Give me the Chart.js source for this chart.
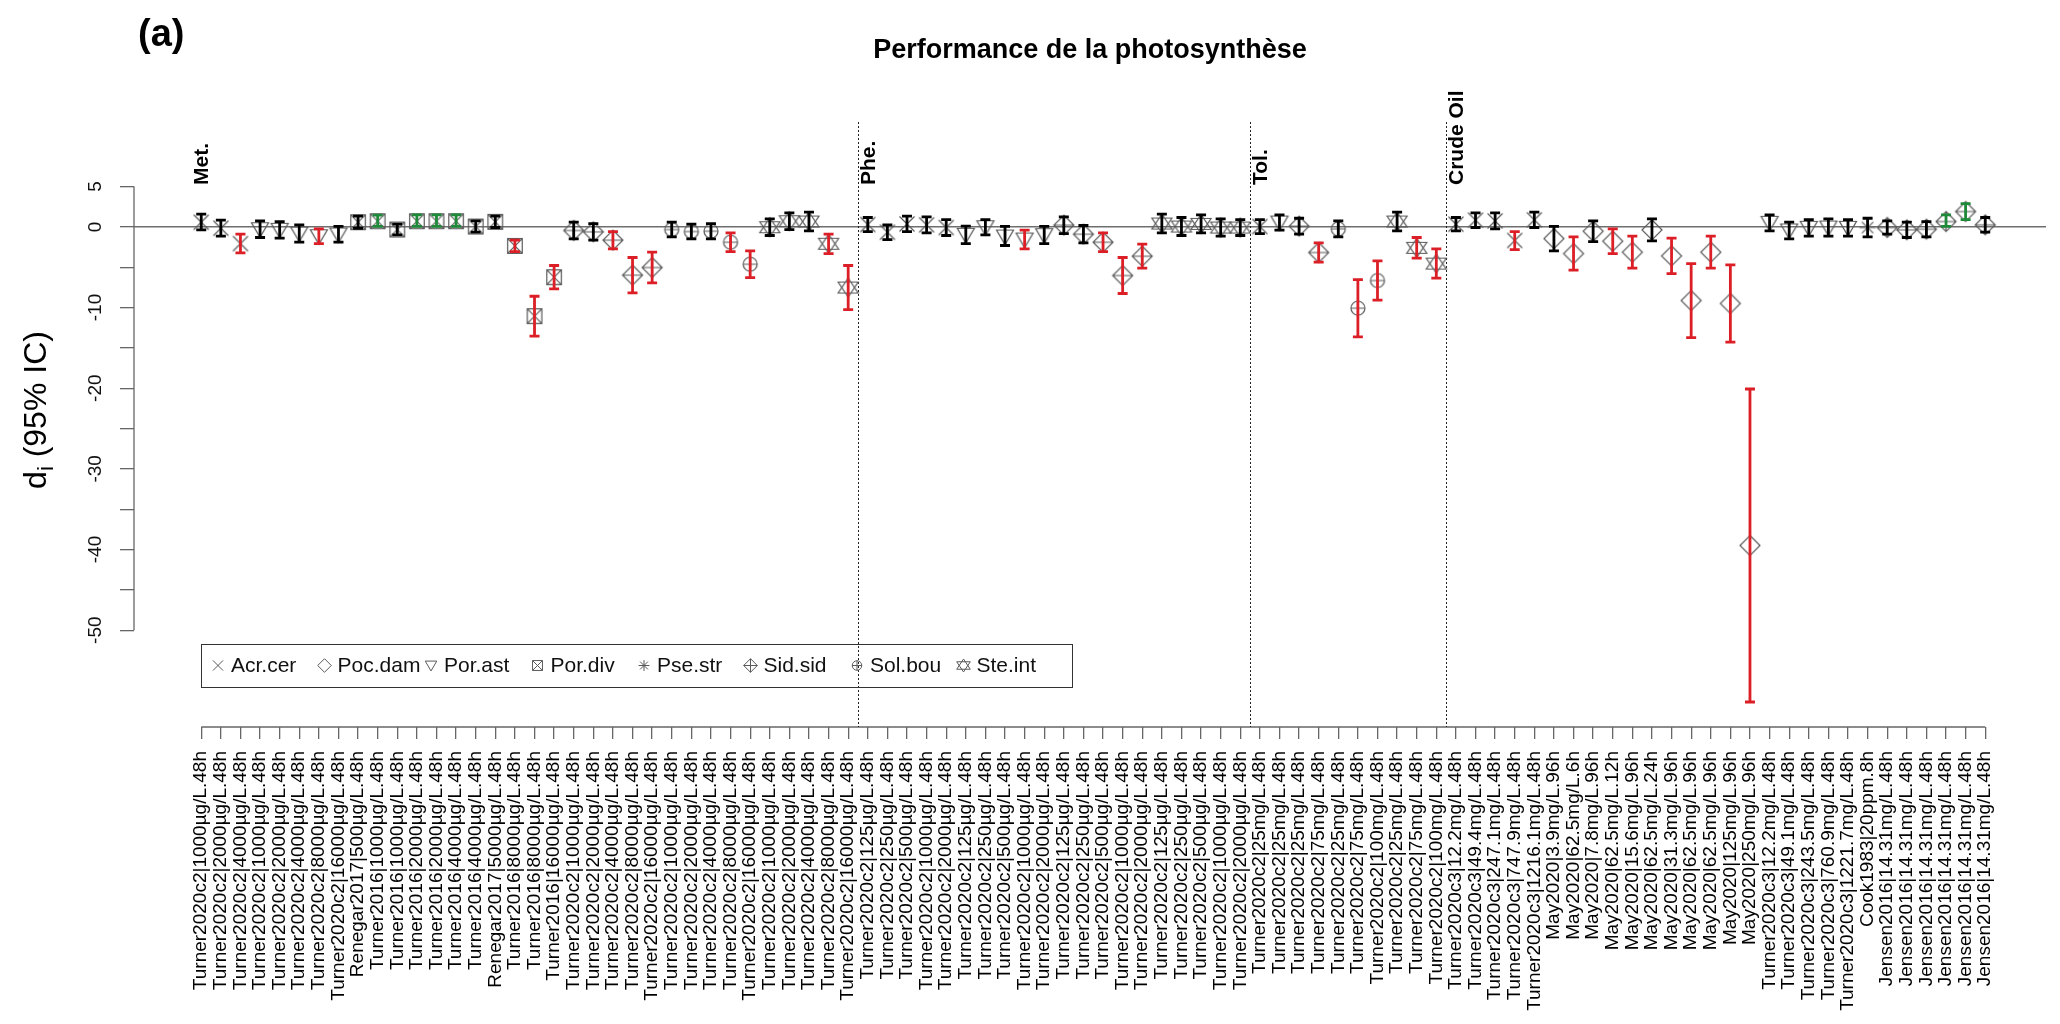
<!DOCTYPE html>
<html><head><meta charset="utf-8">
<script src="https://cdn.jsdelivr.net/npm/chart.js@4.4.1/dist/chart.umd.min.js"></script>
<style>html,body{margin:0;padding:0;background:#fff;}#wrap{width:2060px;height:1024px;position:relative;}</style>
</head><body><div id="wrap"><canvas id="c" width="2060" height="1024"></canvas></div>
<script>
const categories = [
"Turner2020c2|1000µg/L.48h","Turner2020c2|2000µg/L.48h","Turner2020c2|4000µg/L.48h",
"Turner2020c2|1000µg/L.48h","Turner2020c2|2000µg/L.48h","Turner2020c2|4000µg/L.48h","Turner2020c2|8000µg/L.48h","Turner2020c2|16000µg/L.48h",
"Renegar2017|500µg/L.48h","Turner2016|1000µg/L.48h","Turner2016|1000µg/L.48h","Turner2016|2000µg/L.48h","Turner2016|2000µg/L.48h","Turner2016|4000µg/L.48h","Turner2016|4000µg/L.48h","Renegar2017|5000µg/L.48h","Turner2016|8000µg/L.48h","Turner2016|8000µg/L.48h","Turner2016|16000µg/L.48h",
"Turner2020c2|1000µg/L.48h","Turner2020c2|2000µg/L.48h","Turner2020c2|4000µg/L.48h","Turner2020c2|8000µg/L.48h","Turner2020c2|16000µg/L.48h",
"Turner2020c2|1000µg/L.48h","Turner2020c2|2000µg/L.48h","Turner2020c2|4000µg/L.48h","Turner2020c2|8000µg/L.48h","Turner2020c2|16000µg/L.48h",
"Turner2020c2|1000µg/L.48h","Turner2020c2|2000µg/L.48h","Turner2020c2|4000µg/L.48h","Turner2020c2|8000µg/L.48h","Turner2020c2|16000µg/L.48h",
"Turner2020c2|125µg/L.48h","Turner2020c2|250µg/L.48h","Turner2020c2|500µg/L.48h","Turner2020c2|1000µg/L.48h","Turner2020c2|2000µg/L.48h",
"Turner2020c2|125µg/L.48h","Turner2020c2|250µg/L.48h","Turner2020c2|500µg/L.48h","Turner2020c2|1000µg/L.48h","Turner2020c2|2000µg/L.48h",
"Turner2020c2|125µg/L.48h","Turner2020c2|250µg/L.48h","Turner2020c2|500µg/L.48h","Turner2020c2|1000µg/L.48h","Turner2020c2|2000µg/L.48h",
"Turner2020c2|125µg/L.48h","Turner2020c2|250µg/L.48h","Turner2020c2|500µg/L.48h","Turner2020c2|1000µg/L.48h","Turner2020c2|2000µg/L.48h",
"Turner2020c2|25mg/L.48h","Turner2020c2|25mg/L.48h","Turner2020c2|25mg/L.48h","Turner2020c2|75mg/L.48h","Turner2020c2|25mg/L.48h","Turner2020c2|75mg/L.48h","Turner2020c2|100mg/L.48h","Turner2020c2|25mg/L.48h","Turner2020c2|75mg/L.48h","Turner2020c2|100mg/L.48h",
"Turner2020c3|12.2mg/L.48h","Turner2020c3|49.4mg/L.48h","Turner2020c3|247.1mg/L.48h","Turner2020c3|747.9mg/L.48h","Turner2020c3|1216.1mg/L.48h",
"May2020|3.9mg/L.96h","May2020|62.5mg/L.6h","May2020|7.8mg/L.96h","May2020|62.5mg/L.12h","May2020|15.6mg/L.96h","May2020|62.5mg/L.24h","May2020|31.3mg/L.96h","May2020|62.5mg/L.96h","May2020|62.5mg/L.96h","May2020|125mg/L.96h","May2020|250mg/L.96h",
"Turner2020c3|12.2mg/L.48h","Turner2020c3|49.1mg/L.48h","Turner2020c3|243.5mg/L.48h","Turner2020c3|760.9mg/L.48h","Turner2020c3|1221.7mg/L.48h",
"Cook1983|20ppm.8h",
"Jensen2016|14.31mg/L.48h","Jensen2016|14.31mg/L.48h","Jensen2016|14.31mg/L.48h","Jensen2016|14.31mg/L.48h","Jensen2016|14.31mg/L.48h","Jensen2016|14.31mg/L.48h"
];
const speciesOf = [
"Acr.cer","Acr.cer","Acr.cer","Por.ast","Por.ast","Por.ast","Por.ast","Por.ast",
"Por.div","Por.div","Por.div","Por.div","Por.div","Por.div","Por.div","Por.div","Por.div","Por.div","Por.div",
"Sid.sid","Sid.sid","Sid.sid","Sid.sid","Sid.sid","Sol.bou","Sol.bou","Sol.bou","Sol.bou","Sol.bou",
"Ste.int","Ste.int","Ste.int","Ste.int","Ste.int",
"Acr.cer","Acr.cer","Acr.cer","Acr.cer","Acr.cer","Por.ast","Por.ast","Por.ast","Por.ast","Por.ast",
"Sid.sid","Sid.sid","Sid.sid","Sid.sid","Sid.sid","Ste.int","Ste.int","Ste.int","Ste.int","Ste.int",
"Acr.cer","Por.ast","Sid.sid","Sid.sid","Sol.bou","Sol.bou","Sol.bou","Ste.int","Ste.int","Ste.int",
"Acr.cer","Acr.cer","Acr.cer","Acr.cer","Acr.cer",
"Poc.dam","Poc.dam","Poc.dam","Poc.dam","Poc.dam","Poc.dam","Poc.dam","Poc.dam","Poc.dam","Poc.dam","Poc.dam",
"Por.ast","Por.ast","Por.ast","Por.ast","Por.ast","Pse.str",
"Sid.sid","Sid.sid","Sid.sid","Sid.sid","Sid.sid","Sid.sid"
];
const di = [
0.58,-0.17,-2.07,-0.29,-0.37,-0.83,-1.16,-0.95,0.58,0.70,
-0.33,0.70,0.70,0.70,0.04,0.62,-2.36,-11.07,-6.24,-0.45,
-0.62,-1.65,-5.99,-5.04,-0.33,-0.58,-0.54,-1.90,-4.63,-0.04,
0.70,0.66,-2.10,-7.52,0.29,-0.66,0.37,0.25,-0.08,-0.99,
-0.04,-1.20,-1.57,-1.03,0.21,-0.91,-1.90,-6.03,-3.64,0.41,
0.04,0.37,-0.08,-0.08,0.04,0.54,0.08,-3.18,-0.25,-10.08,
-6.65,0.66,-2.60,-4.55,0.33,0.83,0.74,-1.69,0.87,-1.45,
-3.31,-0.54,-1.78,-3.14,-0.37,-3.60,-9.13,-3.14,-9.50,-39.5,
0.50,-0.45,-0.12,-0.08,-0.12,-0.08,-0.08,-0.37,-0.29,0.66,
1.90,0.25];
const ciLow = [
-0.37,-1.16,-3.22,-1.32,-1.40,-1.90,-2.07,-1.90,-0.17,0.05,
-0.99,0.05,0.05,0.05,-0.66,-0.08,-3.06,-13.55,-7.69,-1.49,
-1.65,-2.73,-8.18,-6.94,-1.24,-1.49,-1.49,-3.06,-6.28,-1.07,
-0.33,-0.50,-3.31,-10.25,-0.58,-1.57,-0.58,-0.74,-1.07,-2.07,
-0.99,-2.31,-2.73,-2.07,-0.83,-1.98,-3.06,-8.26,-5.12,-0.74,
-1.07,-0.74,-1.16,-1.07,-0.83,-0.41,-0.91,-4.38,-1.24,-13.64,
-9.09,-0.50,-3.88,-6.36,-0.50,-0.08,-0.25,-2.81,-0.08,-2.98,
-5.37,-1.82,-3.31,-5.12,-1.74,-5.79,-13.72,-5.12,-14.30,-58.9,
-0.50,-1.49,-1.16,-1.16,-1.16,-1.24,-0.91,-1.32,-1.24,0.05,
0.91,-0.66];
const ciHigh = [
1.57,0.83,-0.91,0.74,0.66,0.25,-0.25,0.05,1.32,1.45,
0.33,1.49,1.49,1.49,0.74,1.32,-1.65,-8.60,-4.79,0.58,
0.41,-0.58,-3.80,-3.14,0.58,0.33,0.41,-0.74,-2.98,0.99,
1.74,1.82,-0.91,-4.79,1.16,0.25,1.32,1.24,0.91,0.08,
0.91,0.05,-0.41,0.05,1.24,0.17,-0.74,-3.80,-2.15,1.57,
1.16,1.49,0.99,0.91,0.91,1.49,1.07,-1.98,0.74,-6.53,
-4.21,1.82,-1.32,-2.73,1.16,1.74,1.74,-0.58,1.82,0.05,
-1.24,0.74,-0.25,-1.16,0.99,-1.40,-4.55,-1.16,-4.71,-20.1,
1.49,0.58,0.91,0.99,0.91,1.07,0.74,0.58,0.66,1.49,
2.89,1.16];
const speciesNames = ["Acr.cer","Poc.dam","Por.ast","Por.div","Pse.str","Sid.sid","Sol.bou","Ste.int"];
const groupNames = ["Met.","Phe.","Tol.","Crude Oil"];
const groupStart = [0,34,54,64];
const yTickValues = [5,0,-5,-10,-15,-20,-25,-30,-35,-40,-45,-50];
const yTickLabels = ["5","0","","-10","","-20","","-30","","-40","","-50"];
const titleText = "Performance de la photosynthèse";
const panelTag = "(a)";

const FONT = '"Liberation Sans", Arial, Helvetica, sans-serif';
const MARK = '#5a5a5a';
const RED = '#dc1f26', GREEN = '#1f8a3a', BLACK = '#000';

function drawShape(ctx, sp, k) {
  ctx.beginPath();
  if (sp === 'Acr.cer') { const h=7.5*k; ctx.moveTo(-h,-h); ctx.lineTo(h,h); ctx.moveTo(-h,h); ctx.lineTo(h,-h); }
  else if (sp === 'Poc.dam') { const h=10*k; ctx.moveTo(0,-h); ctx.lineTo(h,0); ctx.lineTo(0,h); ctx.lineTo(-h,0); ctx.closePath(); }
  else if (sp === 'Por.ast') { const w=8.5*k; ctx.moveTo(-w,-6.5*k); ctx.lineTo(w,-6.5*k); ctx.lineTo(0,8*k); ctx.closePath(); }
  else if (sp === 'Por.div') { const h=7.3*k; ctx.rect(-h,-h,2*h,2*h); ctx.moveTo(-h,-h); ctx.lineTo(h,h); ctx.moveTo(-h,h); ctx.lineTo(h,-h); }
  else if (sp === 'Pse.str') { const h=8*k, d=5.7*k; ctx.moveTo(-h,0); ctx.lineTo(h,0); ctx.moveTo(0,-h); ctx.lineTo(0,h); ctx.moveTo(-d,-d); ctx.lineTo(d,d); ctx.moveTo(-d,d); ctx.lineTo(d,-d); }
  else if (sp === 'Sid.sid') { const h=10*k; ctx.moveTo(0,-h); ctx.lineTo(h,0); ctx.lineTo(0,h); ctx.lineTo(-h,0); ctx.closePath(); ctx.moveTo(-h,0); ctx.lineTo(h,0); ctx.moveTo(0,-h); ctx.lineTo(0,h); }
  else if (sp === 'Sol.bou') { const r=7*k; ctx.arc(0,0,r,0,Math.PI*2); ctx.moveTo(-r,0); ctx.lineTo(r,0); ctx.moveTo(0,-r); ctx.lineTo(0,r); }
  else if (sp === 'Ste.int') { const w=10*k, a=9.5*k, b=5.5*k; ctx.moveTo(0,-a); ctx.lineTo(w,b); ctx.lineTo(-w,b); ctx.closePath(); ctx.moveTo(0,a); ctx.lineTo(w,-b); ctx.lineTo(-w,-b); ctx.closePath(); }
  ctx.stroke();
}
function markerCanvas(sp, k) {
  const c = document.createElement('canvas'); c.width = 26; c.height = 26;
  const g = c.getContext('2d'); g.translate(13,13); g.strokeStyle = MARK; g.lineWidth = 1.2; drawShape(g, sp, k);
  return c;
}

const datasets = speciesNames.map(sp => ({
  label: sp,
  data: di.map((v,i)=>({x:i,y:v})).filter(p => speciesOf[p.x] === sp),
  pointStyle: markerCanvas(sp, 1),
  pointRadius: 10, showLine: false
}));

const decor = {
  id: 'decor',
  beforeDatasetsDraw(chart) {
    const {ctx, chartArea: a, scales: {x, y}} = chart;
    ctx.save();
    ctx.strokeStyle = '#6e6e6e'; ctx.lineWidth = 1.5;
    ctx.beginPath(); ctx.moveTo(a.left, y.getPixelForValue(0)); ctx.lineTo(a.right, y.getPixelForValue(0)); ctx.stroke();
    ctx.strokeStyle = '#666'; ctx.lineWidth = 1.3;
    ctx.beginPath(); ctx.moveTo(a.left, y.getPixelForValue(yTickValues[0])); ctx.lineTo(a.left, y.getPixelForValue(yTickValues[yTickValues.length-1])); ctx.stroke();
    ctx.beginPath(); ctx.moveTo(x.getPixelForValue(0), a.bottom); ctx.lineTo(x.getPixelForValue(categories.length-1), a.bottom); ctx.stroke();
    ctx.strokeStyle = '#222'; ctx.lineWidth = 1; ctx.setLineDash([2,2]);
    for (let k=1;k<groupStart.length;k++){ const px = Math.round(x.getPixelForValue(groupStart[k]-0.5))+0.5; ctx.beginPath(); ctx.moveTo(px,a.top); ctx.lineTo(px,a.bottom); ctx.stroke(); }
    ctx.setLineDash([]);
    ctx.fillStyle = '#000'; ctx.font = 'bold 21px ' + FONT; ctx.textAlign='left'; ctx.textBaseline='middle';
    groupNames.forEach((g,k)=>{ ctx.save(); ctx.translate(x.getPixelForValue(groupStart[k])+1, 185); ctx.rotate(-Math.PI/2); ctx.fillText(g,0,0); ctx.restore(); });
    ctx.restore();
  },
  afterDatasetsDraw(chart) {
    const {ctx, scales: {x, y}} = chart;
    ctx.save(); ctx.lineWidth = 2.8; ctx.lineCap = 'butt';
    di.forEach((v,i)=>{
      const col = ciHigh[i] < 0 ? RED : (ciLow[i] > 0 ? GREEN : BLACK);
      const px = x.getPixelForValue(i), y1 = y.getPixelForValue(ciHigh[i]), y2 = y.getPixelForValue(ciLow[i]);
      ctx.strokeStyle = col; ctx.beginPath();
      ctx.moveTo(px,y1); ctx.lineTo(px,y2);
      ctx.moveTo(px-5,y1); ctx.lineTo(px+5,y1); ctx.moveTo(px-5,y2); ctx.lineTo(px+5,y2);
      ctx.stroke();
    });
    ctx.restore();
  },
  afterDraw(chart) {
    const {ctx, chartArea: a} = chart;
    ctx.save();
    ctx.fillStyle = '#000';
    ctx.font = 'bold 27px ' + FONT; ctx.textAlign='center'; ctx.textBaseline='middle';
    ctx.fillText(titleText, (a.left+a.right)/2, 51);
    ctx.font = 'bold 38px ' + FONT; ctx.textAlign='left'; ctx.textBaseline='alphabetic';
    ctx.fillText(panelTag, 138, 46);
    ctx.save(); ctx.translate(46, 410); ctx.rotate(-Math.PI/2);
    ctx.font = '32px ' + FONT; const wd = ctx.measureText('d').width; const wr = ctx.measureText(' (95% IC)').width;
    ctx.font = '22px ' + FONT; const wi = ctx.measureText('i').width;
    let sx = -(wd+wi+wr)/2; ctx.textAlign='left'; ctx.textBaseline='alphabetic';
    ctx.font = '32px ' + FONT; ctx.fillText('d', sx, 0);
    ctx.font = '22px ' + FONT; ctx.fillText('i', sx+wd, 7);
    ctx.font = '32px ' + FONT; ctx.fillText(' (95% IC)', sx+wd+wi, 0);
    ctx.restore();
    const L = 201, T = 644, R = 1072, B = 687, cy = (T+B)/2;
    ctx.strokeStyle = '#333'; ctx.lineWidth = 1; ctx.strokeRect(L+0.5, T+0.5, R-L, B-T);
    ctx.font = '21px ' + FONT; ctx.textBaseline = 'middle'; ctx.textAlign = 'left'; ctx.fillStyle = '#111';
    speciesNames.forEach((sp,k)=>{
      const tx = 231 + 106.5*k;
      ctx.save(); ctx.translate(tx-13, cy); ctx.strokeStyle = MARK; ctx.lineWidth = 1; drawShape(ctx, sp, 0.68); ctx.restore();
      ctx.fillText(sp, tx, cy+1);
    });
    ctx.restore();
  }
};

new Chart(document.getElementById('c'), {
  type: 'scatter',
  data: { datasets },
  options: {
    responsive: false, animation: false, devicePixelRatio: 1,
    layout: { padding: { top: 122, right: 14, left: 0, bottom: 0 } },
    plugins: { legend: { display: false }, tooltip: { enabled: false }, title: { display: false } },
    scales: {
      x: {
        type: 'linear', min: -3.43, max: 94.1,
        afterBuildTicks: s => { s.ticks = categories.map((_, i) => ({ value: i })); },
        afterFit: s => { s.height = 1024 - 727; },
        ticks: { autoSkip: false, minRotation: 90, maxRotation: 90, padding: 12, color: '#000',
                 font: { family: FONT, size: 19 }, callback: v => categories[v] },
        grid: { drawOnChartArea: false, drawTicks: true, tickLength: 12, color: '#666', lineWidth: 1.3 },
        border: { display: false }
      },
      y: {
        type: 'linear', min: -62, max: 13,
        afterBuildTicks: s => { s.ticks = yTickValues.map(v => ({ value: v })); },
        afterFit: s => { s.width = 134; },
        ticks: { autoSkip: false, minRotation: 90, maxRotation: 90, crossAlign: 'center', padding: 11, color: '#111',
                 font: { family: FONT, size: 19 }, callback: (v) => yTickLabels[yTickValues.indexOf(v)] },
        grid: { drawOnChartArea: false, drawTicks: true, tickLength: 14, color: '#666', lineWidth: 1.3 },
        border: { display: false }
      }
    }
  },
  plugins: [decor]
});
</script></body></html>
